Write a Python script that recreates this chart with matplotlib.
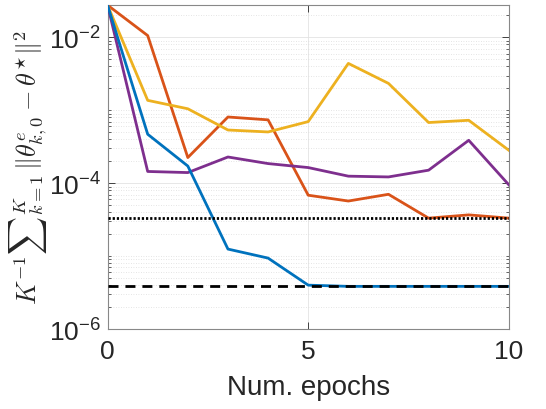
import numpy as np
import matplotlib
matplotlib.use("Agg")
import matplotlib.pyplot as plt
from matplotlib import ticker

plt.rcParams['font.family'] = ['Liberation Sans', 'DejaVu Sans']
plt.rcParams['mathtext.fontset'] = 'cm'

epochs = np.arange(0, 11)

# mean squared distance to the optimum per epoch
err_blue = [2.77e-2, 4.7e-4, 1.72e-4, 1.25e-5, 9.4e-6, 4.0e-6, 3.85e-6, 3.85e-6, 3.85e-6, 3.85e-6, 3.85e-6]
err_orange = [2.77e-2, 1.06e-2, 2.25e-4, 8.1e-4, 7.4e-4, 6.85e-5, 5.7e-5, 7.05e-5, 3.32e-5, 3.68e-5, 3.32e-5]
err_yellow = [2.77e-2, 1.37e-3, 1.05e-3, 5.37e-4, 5.05e-4, 7.0e-4, 4.4e-3, 2.34e-3, 6.8e-4, 7.3e-4, 2.83e-4]
err_purple = [2.77e-2, 1.45e-4, 1.40e-4, 2.29e-4, 1.86e-4, 1.64e-4, 1.25e-4, 1.22e-4, 1.51e-4, 3.88e-4, 9.5e-5]

# reference levels
level_dotted = 3.32e-5
level_dashed = 3.85e-6

colors = ['#0072BD', '#D95319', '#EDB120', '#7E2F8E']

fig = plt.figure(figsize=(5.46, 4.10), dpi=100)
ax = fig.add_axes([0.197, 0.195, 0.735, 0.79])

ax.plot(epochs, err_orange, color=colors[1], lw=2.0, zorder=3)
ax.plot(epochs, err_yellow, color=colors[2], lw=2.0, zorder=3)
ax.plot(epochs, err_purple, color=colors[3], lw=2.0, zorder=3)
ax.plot(epochs, err_blue, color=colors[0], lw=2.0, zorder=3)

ax.axhline(level_dotted, color='black', lw=2.0, dashes=(0.8, 0.7), zorder=4)
ax.axhline(level_dashed, color='black', lw=2.0, dashes=(3.6, 2.5), zorder=4)

ax.set_yscale('log')
ax.set_xlim(0, 10)
ax.set_ylim(1e-6, 2.77e-2)

ax.set_xticks([0, 5, 10])
ax.yaxis.set_major_locator(ticker.FixedLocator([1e-6, 1e-4, 1e-2]))
ax.yaxis.set_minor_locator(ticker.LogLocator(base=10, subs=np.arange(1, 10), numticks=20))
ax.yaxis.set_major_formatter(ticker.FuncFormatter(
    lambda v, p: r'$\mathregular{10^{%d}}$' % int(round(np.log10(v)))))
ax.yaxis.set_minor_formatter(ticker.NullFormatter())

ax.tick_params(axis='both', which='major', direction='in', length=5, width=0.6,
               labelsize=19, colors='#262626', top=True, right=True, pad=7)
ax.tick_params(axis='y', which='minor', direction='in', length=2.5, width=0.5,
               right=True, left=True, colors='#262626')
ax.tick_params(axis='x', which='minor', bottom=False, top=False)
ax.tick_params(axis='y', which='major', pad=5)

for s in ax.spines.values():
    s.set_color('#888888')
    s.set_linewidth(0.8)

ax.grid(True, which='major', color='#e3e3e3', lw=0.6, ls='-', zorder=0)
ax.grid(True, which='minor', axis='y', color='#dcdcdc', lw=0.6, ls=(0, (1, 2)), zorder=0)
ax.set_axisbelow(True)

ax.set_xlabel('Num. epochs', fontsize=20, color='#262626', labelpad=8)
ax.set_ylabel(r'$K^{-1}{\sum}_{k=1}^{K}\,\|\theta^{e}_{k,0}-\theta^{\star}\|^2$',
              fontsize=19, color='#262626', labelpad=0)

fig.savefig('out.png', dpi=100)
